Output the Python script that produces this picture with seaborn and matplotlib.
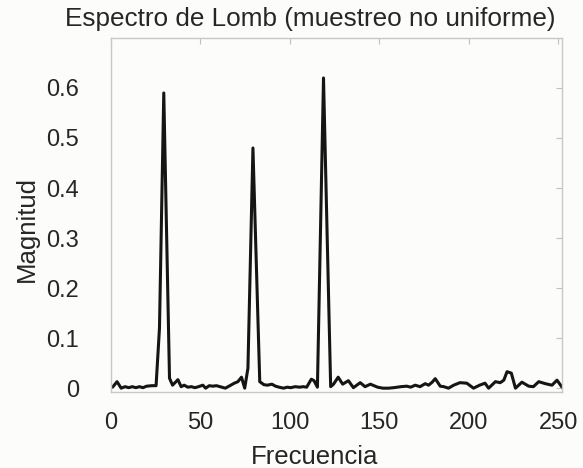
import matplotlib
matplotlib.use("Agg")
import matplotlib.pyplot as plt
import seaborn as sns
import pandas as pd

frecuencia = [1, 3.5, 5.8, 8, 10, 12, 14, 16, 18, 20, 23, 25.3, 27.2, 29.6, 32.8, 34.5,
              37.5, 39.3, 41, 43, 45, 47, 49, 51.4, 53, 55, 57, 59, 61, 64, 66.5, 69,
              71, 73, 74.8, 76.6, 79.4, 83.2, 85.5, 87.5, 90, 92, 94, 96.5, 98.5, 100.5,
              103, 105.5, 107.5, 109.4, 112, 113.5, 115.4, 118.8, 122.8, 124.4, 127,
              129.5, 132.7, 135.5, 139.3, 142, 145, 149, 152, 155, 158, 162, 165.3,
              167.5, 170, 172.7, 175.6, 177.5, 179.5, 181.2, 184, 186, 188.6, 191.5,
              195, 198.8, 202.6, 206, 209, 211, 214.8, 217.5, 219.5, 221.3, 223.7, 226,
              229.6, 233.4, 236, 239, 242.7, 246.4, 249.2, 252]
magnitud = [0.002, 0.013, 0.0, 0.003, 0.001, 0.003, 0.001, 0.003, 0.001, 0.004, 0.005,
            0.005, 0.12, 0.59, 0.02, 0.006, 0.017, 0.003, 0.006, 0.002, 0.003, 0.001,
            0.003, 0.006, 0.0, 0.005, 0.004, 0.005, 0.003, 0.0, 0.005, 0.01, 0.013,
            0.022, 0.0, 0.04, 0.48, 0.013, 0.007, 0.006, 0.008, 0.004, 0.002, 0.0,
            0.002, 0.001, 0.003, 0.002, 0.003, 0.002, 0.018, 0.015, 0.002, 0.62, 0.003,
            0.008, 0.022, 0.008, 0.015, 0.001, 0.011, 0.003, 0.008, 0.002, 0.0, 0.0,
            0.001, 0.003, 0.004, 0.002, 0.006, 0.003, 0.009, 0.006, 0.012, 0.019, 0.004,
            0.003, 0.0, 0.006, 0.011, 0.01, 0.0, 0.006, 0.01, 0.0, 0.013, 0.011, 0.016,
            0.033, 0.03, 0.0, 0.012, 0.004, 0.003, 0.013, 0.009, 0.006, 0.016, 0.002]
xticks = [0, 50, 100, 150, 200, 250]
yticks = [0, 0.1, 0.2, 0.3, 0.4, 0.5, 0.6]
ytick_labels = ["0", "0.1", "0.2", "0.3", "0.4", "0.5", "0.6"]

df = pd.DataFrame({"Frecuencia": frecuencia, "Magnitud": magnitud})

sns.set_theme(style="white")
plt.rcParams["font.family"] = ["Liberation Sans", "DejaVu Sans"]

bg = "#fcfcfa"
txt = "#262626"
fig = plt.figure(figsize=(5.83, 4.68), dpi=100, facecolor=bg)
ax = fig.add_axes([0.190, 0.162, 0.774, 0.757])
ax.set_facecolor(bg)

sns.lineplot(data=df, x="Frecuencia", y="Magnitud", ax=ax, color="#151515",
             linewidth=2.2, sort=False)

ax.set_xlim(0, 252)
ax.set_ylim(-0.008, 0.7)
ax.set_xticks(xticks)
ax.set_xticklabels([str(t) for t in xticks])
ax.set_yticks(yticks)
ax.set_yticklabels(ytick_labels)

for s in ax.spines.values():
    s.set_color("#c8c8c8")
    s.set_linewidth(1.0)
ax.tick_params(direction="in", length=4, width=0.8, color="#c0c0c0",
               top=True, right=True, labelsize=17, labelcolor=txt)
ax.tick_params(axis="x", pad=14)
ax.tick_params(axis="y", pad=23)

ax.set_xlabel("Frecuencia", fontsize=18.5, color=txt, labelpad=3)
ax.xaxis.set_label_coords(0.452, -0.15)
ax.set_ylabel("Magnitud", fontsize=18.5, color=txt, labelpad=5)
ax.yaxis.label.set_y(0.46)
fig.suptitle("Espectro de Lomb (muestreo no uniforme)", fontsize=18.8, color=txt,
             x=0.532, y=0.985, va="top")

fig.savefig("out.png", dpi=100, facecolor=bg)
